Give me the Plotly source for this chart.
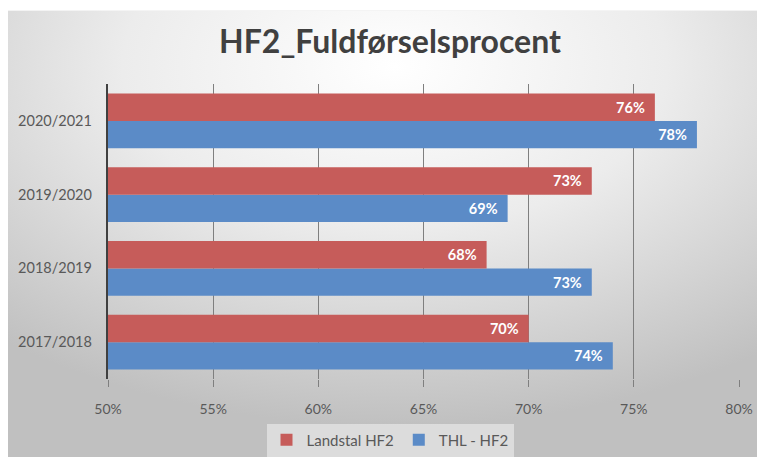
import base64
import plotly.graph_objects as go

categories = ["2017/2018", "2018/2019", "2019/2020", "2020/2021"]
landstal_hf2 = [70, 68, 73, 76]
thl_hf2 = [74, 73, 69, 78]
x_ticks = [50, 55, 60, 65, 70, 75, 80]
x_tick_labels = ["50%", "55%", "60%", "65%", "70%", "75%", "80%"]

W, H = 765, 457
OFF = 8  # page body offset in the screenshot
# target plot area in screenshot pixels
P_LEFT, P_RIGHT, P_TOP, P_BOT = 108, 739, 83.5, 379.5
ml = P_LEFT - OFF
mr = W - (P_RIGHT - OFF)
mt = P_TOP - OFF
mb = H - (P_BOT - OFF)
pw, ph = W - ml - mr, H - mt - mb

svg = (
    '<svg xmlns="http://www.w3.org/2000/svg" width="760" height="445" preserveAspectRatio="none">'
    '<defs><radialGradient id="g" cx="50%" cy="12%" r="78%" fx="50%" fy="12%">'
    '<stop offset="0" stop-color="#ffffff"/>'
    '<stop offset="0.45" stop-color="#ececec"/>'
    '<stop offset="1" stop-color="#c0c0c0"/>'
    '</radialGradient></defs>'
    '<rect width="760" height="445" fill="url(#g)"/></svg>'
)
src = "data:image/svg+xml;base64," + base64.b64encode(svg.encode()).decode()

# background panel in screenshot pixels -> figure pixels
bg_x0, bg_y0, bg_x1, bg_y1 = 7 - OFF, 10 - OFF, 775, 465

def px_to_paper_x(px):
    return (px - ml) / pw

def py_to_paper_y(py):
    return (H - mb - py) / ph

label_font = dict(color="white", size=14.5, family="Lato", weight=700)
pad = "\u00a0\u00a0"

fig = go.Figure()
fig.add_trace(go.Bar(
    y=categories, x=thl_hf2, orientation="h", name="THL - HF2",
    marker=dict(color="#5b8bc7", line=dict(width=0)),
    text=[f"{v}%{pad}" for v in thl_hf2], textposition="inside", insidetextanchor="end",
    textfont=label_font,
))
fig.add_trace(go.Bar(
    y=categories, x=landstal_hf2, orientation="h", name="Landstal HF2",
    marker=dict(color="#c65c5a", line=dict(width=0)),
    text=[f"{v}%{pad}" for v in landstal_hf2], textposition="inside", insidetextanchor="end",
    textfont=label_font,
))

fig.update_layout(
    width=W, height=H,
    margin=dict(l=ml, r=mr, t=mt, b=mb, autoexpand=False),
    paper_bgcolor="#cfcfcf",
    plot_bgcolor="rgba(0,0,0,0)",
    barmode="group",
    bargap=0.257,
    bargroupgap=0,
    font=dict(family="Lato", color="#595959", size=14),
    title=dict(text="<b>HF2_Fuldførselsprocent</b>", x=(390 - OFF) / W, xref="container", xanchor="center",
               y=1 - (42 - OFF) / H, yref="container", yanchor="middle",
               font=dict(family="Lato", size=32, color="#404040")),
    xaxis=dict(range=[50, 80], tickvals=x_ticks, ticktext=x_tick_labels,
               showgrid=True, gridcolor="#7f7f7f", gridwidth=1,
               ticks="outside", ticklen=7, tickcolor="#7f7f7f",
               ticklabelstandoff=10,
               zeroline=False, showline=False, automargin=False,
               tickfont=dict(size=14, color="#595959")),
    yaxis=dict(showline=True, linecolor="#404040", linewidth=2, showgrid=False,
               ticks="", ticksuffix="   ", automargin=False,
               tickfont=dict(size=14.5, color="#595959")),
    showlegend=True,
    legend=dict(orientation="h", traceorder="reversed", xref="container", yref="container",
                x=(390 - OFF) / W, xanchor="center", y=1 - (440 - OFF) / H, yanchor="middle",
                bgcolor="rgba(255,255,255,0.45)", font=dict(size=15, color="#595959"),
                itemwidth=30),
    images=[dict(source=src, xref="paper", yref="paper",
                 x=px_to_paper_x(bg_x0), y=py_to_paper_y(bg_y0),
                 sizex=(bg_x1 - bg_x0) / pw, sizey=(bg_y1 - bg_y0) / ph,
                 xanchor="left", yanchor="top", sizing="stretch", layer="below")],
    shapes=[dict(type="rect", xref="paper", yref="paper", layer="below",
                 x0=px_to_paper_x(-OFF), x1=px_to_paper_x(W + 10),
                 y0=py_to_paper_y(bg_y0), y1=py_to_paper_y(-OFF),
                 fillcolor="white", line=dict(width=0))],
)

fig.write_html("out.html")
